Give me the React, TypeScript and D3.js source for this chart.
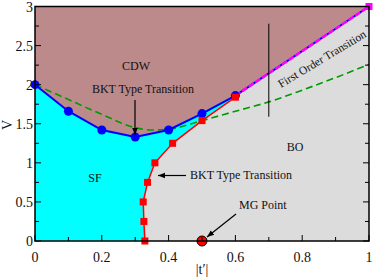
import React from "react";
import * as d3 from "d3";

// CDW / SF boundary (blue circles)
const blueT = [0, 0.1, 0.2, 0.3, 0.4, 0.5, 0.6];
const blueV = [2.0, 1.66, 1.42, 1.33, 1.42, 1.63, 1.86];

// SF / BO boundary (red squares)
const redT = [0.329, 0.326, 0.324, 0.337, 0.359, 0.412, 0.5, 0.6];
const redV = [0, 0.25, 0.5, 0.75, 1.0, 1.25, 1.54, 1.84];

// first order line end point
const firstOrderEnd = { t: 1.0, v: 3.0 };

// green dashed curve
const greenT = [0, 0.1, 0.2, 0.3, 0.35, 0.4, 0.5, 0.6, 0.7, 0.8, 0.9, 1.0];
const greenV = [2.0, 1.81, 1.62, 1.45, 1.42, 1.43, 1.54, 1.66, 1.78, 1.93, 2.09, 2.26];

const mgPoint = { t: 0.5, v: 0 };

const xTicks = [0, 0.2, 0.4, 0.6, 0.8, 1];
const yTicks = [0, 0.5, 1, 1.5, 2, 2.5, 3];

const width = 374;
const height = 278;
const x = d3.scaleLinear().domain([0, 1]).range([35, 369]);
const y = d3.scaleLinear().domain([0, 3]).range([241, 6.5]);
const font = "Liberation Serif";

const line = d3
  .line<[number, number]>()
  .x((d) => x(d[0]))
  .y((d) => y(d[1]));

export default function App() {
  const blue: [number, number][] = blueT.map((t, i) => [t, blueV[i]]);
  const red: [number, number][] = redT.map((t, i) => [t, redV[i]]);
  const end: [number, number] = [firstOrderEnd.t, firstOrderEnd.v];
  const sf: [number, number][] = [[0, 0], ...blue, ...red.slice().reverse()];
  const cdw: [number, number][] = [[0, 3], ...blue, end];
  const greenLine = d3
    .line<number>()
    .x((d) => x(d))
    .y((_, i) => y(greenV[i]))
    .curve(d3.curveMonotoneX);
  const last = blue[blue.length - 1];

  const minorX = d3.range(0, 1.0001, 0.1);
  const minorY = d3.range(0, 3.0001, 0.25);

  const T = (props: any) => (
    <text fill="#111" style={{ fontFamily: font, fontSize: props.size ?? 12 }} {...props} />
  );

  return (
    <svg width={width} height={height} style={{ position: "absolute", left: 0, top: 0 }}>
      <defs>
        <marker id="ah" viewBox="0 0 10 10" refX={10} refY={5} markerWidth={7} markerHeight={7}
          markerUnits="userSpaceOnUse" orient="auto">
          <path d="M0,1 L10,5 L0,9 Z" fill="#000" />
        </marker>
      </defs>
      <rect width={width} height={height} fill="#fff" />
      {/* BO background */}
      <rect x={x(0)} y={y(3)} width={x(1) - x(0)} height={y(0) - y(3)} fill="#dcdcdc" />
      {/* SF */}
      <path d={line(sf) + "Z"} fill="#00ffff" />
      {/* CDW */}
      <path d={line(cdw) + "Z"} fill="#bc8a8a" />

      <path d={greenLine(greenT) || ""} fill="none" stroke="#009a00" strokeWidth={1.6} strokeDasharray="7,4" />
      <path d={line(red) || ""} fill="none" stroke="#ff0000" strokeWidth={1.5} />
      <path d={line([...blue, end]) || ""} fill="none" stroke="#0000ff" strokeWidth={2} />
      <path d={line([last, end]) || ""} fill="none" stroke="#ff00ff" strokeWidth={2.5} strokeDasharray="6,2" />

      <line x1={x(0.7)} x2={x(0.7)} y1={y(2.78)} y2={y(1.59)} stroke="#000" strokeWidth={1} />

      {blue.map((d, i) => (
        <circle key={"b" + i} cx={x(d[0])} cy={y(d[1])} r={4.5} fill="#0000ff" />
      ))}
      {red.map((d, i) => (
        <rect key={"r" + i} x={x(d[0]) - 3.5} y={y(d[1]) - 3.5} width={7} height={7} fill="#ff0000" />
      ))}
      <rect x={x(end[0]) - 3.5} y={y(end[1]) - 3.5} width={7} height={7} fill="#ff00ff" />
      <circle cx={x(mgPoint.t)} cy={y(mgPoint.v)} r={5} fill="#ff0000" stroke="#000" strokeWidth={1} />

      {/* frame */}
      <rect x={x(0)} y={y(3)} width={x(1) - x(0)} height={y(0) - y(3)} fill="none" stroke="#000" strokeWidth={1.5} />

      {/* ticks, inward */}
      <g stroke="#000" strokeWidth={1}>
        {minorX.map((t, i) => (
          <line key={"tx" + i} x1={x(t)} x2={x(t)} y1={y(0)} y2={y(0) - (i % 2 === 0 ? 6 : 4)} />
        ))}
        {minorY.map((v, i) => (
          <g key={"ty" + i}>
            <line x1={x(0)} x2={x(0) + (i % 2 === 0 ? 6 : 4)} y1={y(v)} y2={y(v)} />
            <line x1={x(1)} x2={x(1) - (i % 2 === 0 ? 6 : 4)} y1={y(v)} y2={y(v)} />
          </g>
        ))}
      </g>

      {xTicks.map((t) => (
        <T key={"xl" + t} x={x(t)} y={262} textAnchor="middle" size={14}>{String(t)}</T>
      ))}
      {yTicks.map((v) => (
        <T key={"yl" + v} x={x(0) - 2} y={y(v) + 5} textAnchor="end" size={14}>{String(v)}</T>
      ))}

      <T x={202} y={274} textAnchor="middle" size={14}>|t′|</T>
      <T transform="translate(12,125) rotate(-90)" textAnchor="middle" size={14}>V</T>

      <T x={136} y={70} textAnchor="middle">CDW</T>
      <T x={143} y={92.5} textAnchor="middle">BKT Type Transition</T>
      <T x={95} y={182} textAnchor="middle">SF</T>
      <T x={295} y={151} textAnchor="middle">BO</T>
      <T x={190} y={178.5}>BKT Type Transition</T>
      <T x={239} y={209}>MG Point</T>
      <T transform="translate(281,88) rotate(-31)" size={11.5}>First Order Transition</T>

      <g stroke="#000" strokeWidth={1.2}>
        <line x1={135} y1={100} x2={135} y2={135} markerEnd="url(#ah)" />
        <line x1={186} y1={175.5} x2={158} y2={175.5} markerEnd="url(#ah)" />
        <line x1={236} y1={214} x2={207} y2={237} markerEnd="url(#ah)" />
      </g>
    </svg>
  );
}
